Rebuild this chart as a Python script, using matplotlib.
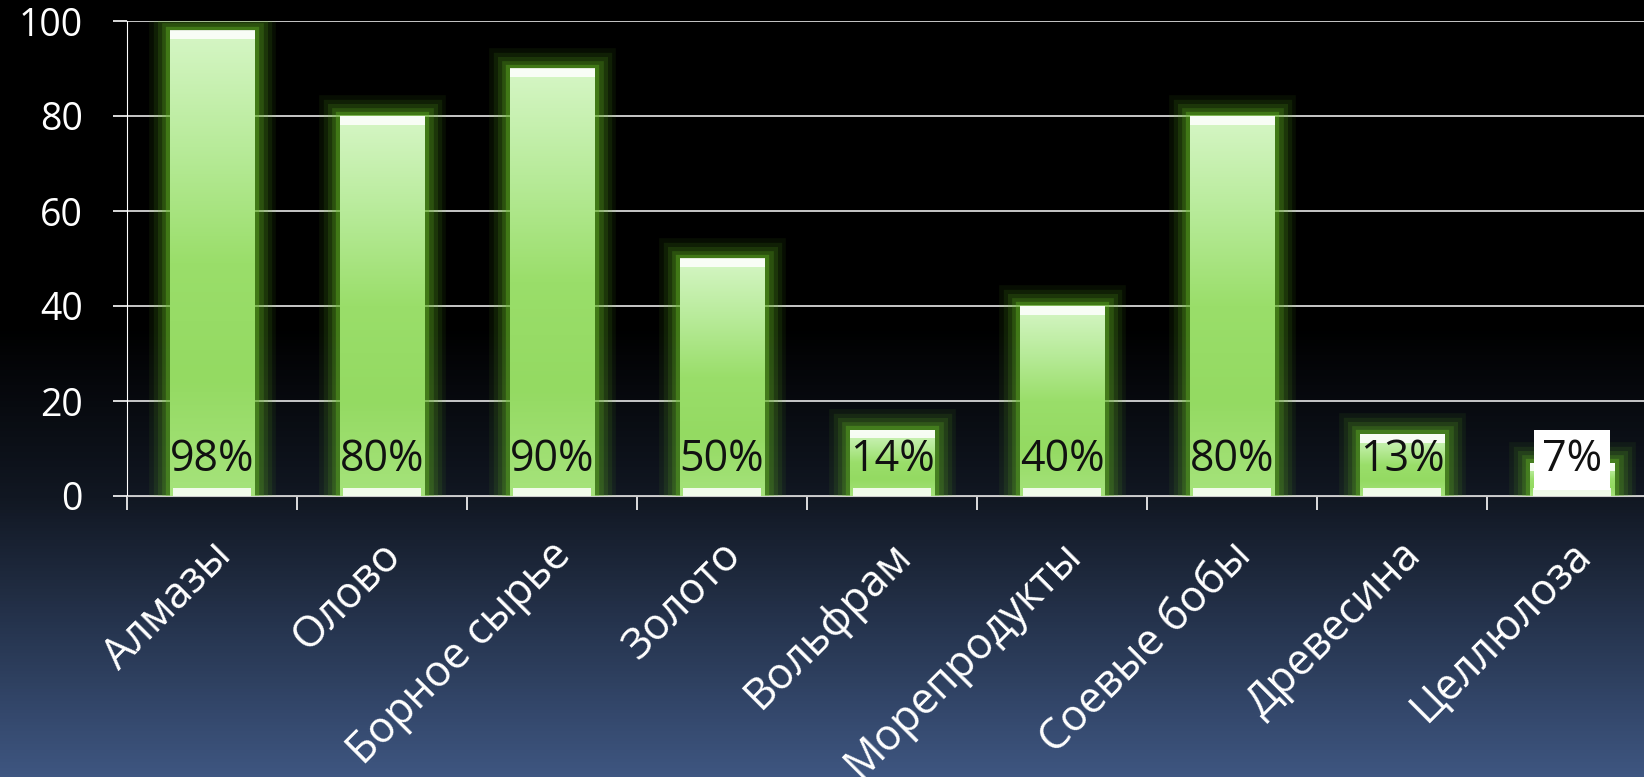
import numpy as np
import matplotlib
matplotlib.use('Agg')
import matplotlib.pyplot as plt
from matplotlib.colors import LinearSegmentedColormap
from matplotlib.transforms import ScaledTranslation

# данные
categories = ['Алмазы', 'Олово', 'Борное сырье', 'Золото', 'Вольфрам',
              'Морепродукты', 'Соевые бобы', 'Древесина', 'Целлюлоза']
values = [98, 80, 90, 50, 14, 40, 80, 13, 7]
labels = ['98%', '80%', '90%', '50%', '14%', '40%', '80%', '13%', '7%']
yticks = [0, 20, 40, 60, 80, 100]

plt.rcParams['font.family'] = ['Open Sans', 'DejaVu Sans']

fig = plt.figure(figsize=(16.44, 7.77), dpi=100)

# фон: чёрный сверху, тёмно-синий снизу
bg = fig.add_axes([0, 0, 1, 1], zorder=-10)
bg_cmap = LinearSegmentedColormap.from_list(
    'bg', [(0, '#000000'), (0.42, '#000000'), (0.64, '#111722'), (1.0, '#3e5681')])
grad = np.linspace(0, 1, 256).reshape(-1, 1)
bg.imshow(grad, cmap=bg_cmap, aspect='auto', extent=[0, 1, 0, 1], origin='upper')
bg.axis('off')

ax = fig.add_axes([127 / 1644, 281 / 777, 1530 / 1644, 475 / 777])
ax.set_facecolor('none')
x = np.arange(len(categories))
w = 0.5

# свечение вокруг столбцов
for lw, a in [(30, 0.08), (24, 0.11), (18, 0.15), (12, 0.22), (6, 0.4)]:
    ax.bar(x, values, w, fill=False, edgecolor='#62b424', linewidth=lw,
           alpha=a, zorder=2)

# столбцы с градиентом
bar_cmap = LinearSegmentedColormap.from_list(
    'bar', ['#d6f6c6', '#b8eb9a', '#9ade6a', '#94da62', '#a6e37c'])
bars = ax.bar(x, values, w, color='none', zorder=3)
for b in bars:
    x0, y0, bw, bh = b.get_x(), b.get_y(), b.get_width(), b.get_height()
    img = ax.imshow(grad, cmap=bar_cmap, aspect='auto', origin='upper',
                    extent=[x0, x0 + bw, y0, y0 + bh], zorder=3)
    img.set_clip_path(b)

# блики сверху и снизу
bevel = 1.8
ax.bar(x, bevel, w, bottom=np.array(values) - bevel, color='white', alpha=0.85, zorder=4)
ax.bar(x, 1.6, w * 0.92, color='white', alpha=0.85, zorder=4)

# подписи процентов
for xi, lab in zip(x, labels):
    box = None
    if lab == '7%':
        box = dict(facecolor='white', edgecolor='none', pad=6)
    ax.text(xi, 5.2, lab, ha='center', va='baseline', fontsize=31,
            color='#111111', zorder=6, bbox=box)

ax.set_xlim(-0.5, len(categories) - 0.5)
ax.set_ylim(0, 100)
ax.set_yticks(yticks)
ax.yaxis.grid(True, color='#e8e8e8', linewidth=1.2)
ax.set_axisbelow(True)
ax.tick_params(axis='y', colors='white', labelsize=27, length=10, width=1.2, pad=22)
ax.set_xticks(x)
ax.set_xticklabels(categories, rotation=45, ha='right', va='center',
                   rotation_mode='anchor', fontsize=31, color='white')
ax.tick_params(axis='x', which='major', length=0, pad=38)
shift = ScaledTranslation(0.13, 0, fig.dpi_scale_trans)
for t in ax.get_xticklabels():
    t.set_transform(t.get_transform() + shift)
ax.set_xticks(np.arange(len(categories) + 1) - 0.5, minor=True)
ax.tick_params(axis='x', which='minor', length=10, width=1.2, color='white')
for s in ['top', 'right']:
    ax.spines[s].set_visible(False)
ax.spines['left'].set_color('white')
ax.spines['bottom'].set_color('#cccccc')

fig.savefig('out.png', dpi=100)
